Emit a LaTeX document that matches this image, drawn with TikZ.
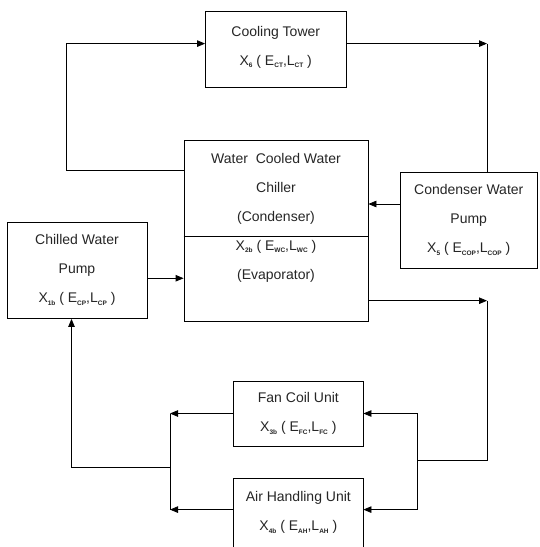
\documentclass[tikz,border=0pt]{standalone}
\usepackage{fontspec}
\setmainfont{Liberation Sans}
\usetikzlibrary{calc, positioning, arrows.meta}
\newcommand{\sbs}[1]{\raisebox{-2.5pt}{\fontsize{6.5}{6.5}\selectfont\bfseries #1}}
\tikzset{
    box/.style={rectangle, draw=black, line width=0.8pt, fill=white, inner sep=0pt},
    lbl/.style={align=center, text=black!85, font=\fontsize{14}{29}\selectfont, inner sep=0pt},
    arr/.style={-{Triangle[length=8pt,width=6.5pt]}, line width=0.8pt},
    pipe/.style={line width=0.8pt}
}

\begin{document}
\begin{tikzpicture}[x=1pt, y=-1pt]
    \clip (0,0) rectangle (539,547);

    % Boxes
    \node[box, minimum width=140.5pt, minimum height=75.3pt] (ct) at (275.75,49.35) {};
    \node[box, minimum width=184pt, minimum height=181pt] (chiller) at (276,230.5) {};
    \node[box, minimum width=137.5pt, minimum height=96pt] (cwp) at (468.75,220) {};
    \node[box, minimum width=140pt, minimum height=96.5pt] (chwp) at (77,270.25) {};
    \node[box, minimum width=129.3pt, minimum height=65pt] (fcu) at (298.35,413.5) {};
    \node[box, minimum width=129.3pt, minimum height=70pt] (ahu) at (298.35,513) {};
    \draw[pipe] (chiller.west |- 0,236) -- (chiller.east |- 0,236);

    % Texts
    \node[lbl] (cttxt) at ([yshift=2pt]ct.center) {Cooling Tower\\X\sbs{6} ( E\sbs{CT},L\sbs{CT} )};
    \node[lbl] (condtxt) at (276,188.5) {Water\ \ Cooled Water\\Chiller\\(Condenser)};
    \node[lbl] (evaptxt) at (276,261.3) {X\sbs{2b} ( E\sbs{WC},L\sbs{WC} )\\(Evaporator)};
    \node[lbl] (cwptxt) at (cwp.center) {Condenser Water\\Pump\\X\sbs{5} ( E\sbs{COP},L\sbs{COP} )};
    \node[lbl] (chwptxt) at (chwp.center) {Chilled Water\\Pump\\X\sbs{1b} ( E\sbs{CP},L\sbs{CP} )};
    \node[lbl] (fcutxt) at (fcu.center) {Fan Coil Unit\\X\sbs{3b} ( E\sbs{FC},L\sbs{FC} )};
    \node[lbl] (ahutxt) at (298.35,512.4) {Air Handling Unit\\X\sbs{4b} ( E\sbs{AH},L\sbs{AH} )};

    % Corners
    \coordinate (tl) at (66,43.6);
    \coordinate (tr) at (487,43.6);
    \coordinate (er) at (487,300.7);
    \coordinate (br) at (487,460.5);
    \coordinate (rs) at (417.5,460.5);
    \coordinate (ls) at (170,467);
    \coordinate (bl) at (71.5,467);

    % Condenser water loop
    \draw[arr] ([yshift=-31pt]chiller.north west) -| (tl) -- (tl -| ct.west);
    \draw[arr] (tr -| ct.east) -- (tr);
    \draw[pipe] (tr) -- (tr |- cwp.north);
    \draw[arr] ([yshift=16pt]cwp.west) coordinate (cin) -- (cin -| chiller.east);

    % Chilled water loop
    \draw[arr] ([yshift=-8pt]chwp.east) coordinate (pin) -- (pin -| chiller.west);
    \draw[arr] (er -| chiller.east) -- (er);
    \draw[pipe] (er) -- (br) -- (rs);
    \draw[pipe] (rs |- fcu.east) -- (rs |- 0,509.6);
    \draw[arr] (rs |- fcu.east) -- (fcu.east);
    \draw[arr] (rs |- 0,509.6) -- (ahu.east |- 0,509.6);
    \draw[arr] (fcu.west) -- (ls |- fcu.west);
    \draw[arr] (ahu.west |- 0,509.6) -- (ls |- 0,509.6);
    \draw[pipe] (ls |- fcu.west) -- (ls |- 0,509.6);
    \draw[arr] (ls) -- (bl) -- (bl |- chwp.south);
\end{tikzpicture}
\end{document}
